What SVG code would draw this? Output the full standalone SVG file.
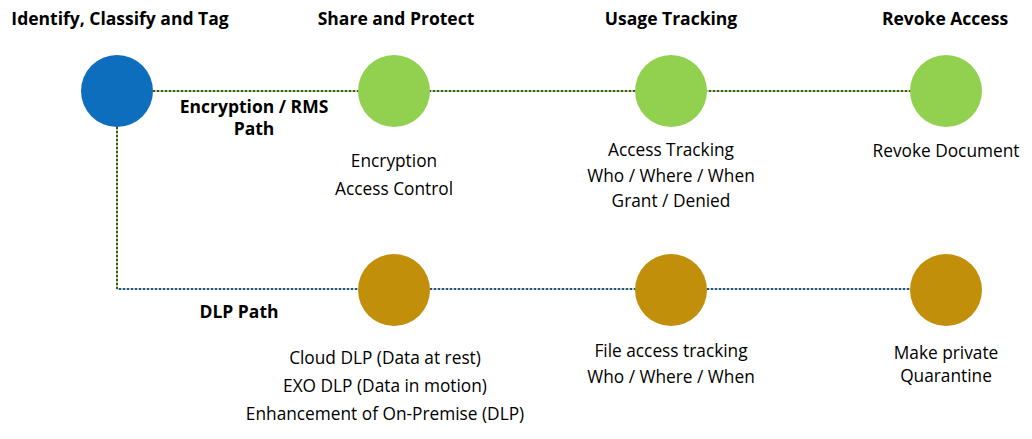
<svg xmlns="http://www.w3.org/2000/svg" width="1032" height="439" viewBox="0 0 1032 439">
<style>
.h{font-family:"Open Sans","Noto Sans",sans-serif;font-weight:bold;font-size:17.5px;fill:#000;text-anchor:middle}
.t{font-family:"Open Sans","Noto Sans",sans-serif;font-size:17.3px;fill:#000;text-anchor:middle}
.blue{fill:#0D6EBE}
.green{fill:#92D050}
.gold{fill:#C28F0A}
.base{fill:none;stroke-width:1.5}
.dots{fill:none;stroke:#222;stroke-width:1.5;stroke-dasharray:2 2}
</style>
<rect width="1032" height="439" fill="#fff"/>
<g id="connectors">
<path class="base" stroke="#92D050" d="M153 91H911"/>
<path class="dots" d="M153 91H911"/>
<path class="base" stroke="#9BC85A" d="M117 127V289"/>
<path class="base" stroke="#7EC8F0" d="M117 289H358"/>
<path class="dots" d="M117 127V289H358"/>
<path class="base" stroke="#7EC8F0" d="M430 289H635M707 289H911"/>
<path class="dots" d="M430 289H635M707 289H911"/>
</g>
<g id="identify">
<circle class="blue" cx="117" cy="91" r="36"/>
<text class="h" x="120" y="25">Identify, Classify and Tag</text>
</g>
<g id="share">
<circle class="green" cx="394" cy="91" r="36"/>
<text class="h" x="396" y="25">Share and Protect</text>
<text class="t" x="394" y="167">Encryption</text>
<text class="t" x="394" y="195">Access Control</text>
</g>
<g id="usage">
<circle class="green" cx="671" cy="91" r="36"/>
<text class="h" x="671" y="25">Usage Tracking</text>
<text class="t" x="671" y="156">Access Tracking</text>
<text class="t" x="671" y="182">Who / Where / When</text>
<text class="t" x="671" y="207">Grant / Denied</text>
</g>
<g id="revoke">
<circle class="green" cx="946" cy="91" r="36"/>
<text class="h" x="945" y="25">Revoke Access</text>
<text class="t" x="946" y="157">Revoke Document</text>
</g>
<g id="rms-label">
<text class="h" x="254" y="113">Encryption / RMS</text>
<text class="h" x="254" y="135">Path</text>
</g>
<g id="dlp-label">
<text class="h" x="239" y="318">DLP Path</text>
</g>
<g id="cloud-dlp">
<circle class="gold" cx="394" cy="290" r="36"/>
<text class="t" x="385" y="364">Cloud DLP (Data at rest)</text>
<text class="t" x="385" y="392">EXO DLP (Data in motion)</text>
<text class="t" x="385" y="420">Enhancement of On-Premise (DLP)</text>
</g>
<g id="file-access">
<circle class="gold" cx="671" cy="290" r="36"/>
<text class="t" x="671" y="357">File access tracking</text>
<text class="t" x="671" y="383">Who / Where / When</text>
</g>
<g id="private">
<circle class="gold" cx="946" cy="290" r="36"/>
<text class="t" x="946" y="359">Make private</text>
<text class="t" x="946" y="382">Quarantine</text>
</g>
</svg>
